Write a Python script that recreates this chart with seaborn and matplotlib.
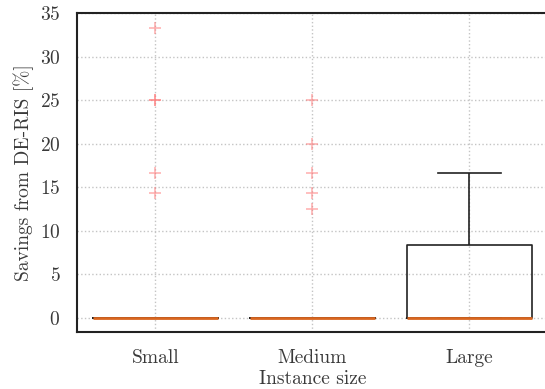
import numpy as np
import pandas as pd
import seaborn as sns
import matplotlib.pyplot as plt

plt.rcParams['font.family'] = 'cmr10'
plt.rcParams['axes.formatter.use_mathtext'] = True
plt.rcParams['font.size'] = 14
plt.rcParams['text.color'] = '#3a3a3a'
plt.rcParams['axes.labelcolor'] = '#3a3a3a'
plt.rcParams['xtick.labelcolor'] = '#3a3a3a'
plt.rcParams['ytick.labelcolor'] = '#3a3a3a'

# savings per instance [%]
small = [0] * 20 + [33.33, 25.0, 25.0, 16.67, 14.29]
medium = [0] * 20 + [25.0, 20.0, 16.67, 14.29, 12.5]
large = [0, 0, 0, 0, 0, 8.33, 8.33, 16.67]
sizes = ['Small', 'Medium', 'Large']

df = pd.DataFrame({
    'size': ['Small'] * len(small) + ['Medium'] * len(medium) + ['Large'] * len(large),
    'savings': small + medium + large,
})

fig = plt.figure(figsize=(5.45, 3.89), dpi=100)
ax = fig.add_axes([0.1413, 0.1458, 0.8637, 0.8200])

sns.boxplot(data=df, x='size', y='savings', order=sizes, ax=ax,
            fill=False, color='#222222', width=0.8, linewidth=1.2,
            medianprops={'color': '#d9661f', 'linewidth': 2},
            flierprops={'marker': '+', 'markeredgecolor': '#ff7777',
                        'markersize': 8, 'alpha': 0.6, 'markeredgewidth': 1.1})

ax.set_axisbelow(True)
ax.grid(True, linestyle=':', color='#c4c4c4', linewidth=1)
ax.set_xlim(-0.5, 2.5)
ax.set_ylim(-1.667, 35)
ax.set_yticks(range(0, 36, 5))
ax.tick_params(axis='y', length=0, pad=12)
ax.tick_params(axis='x', length=0, pad=12)
for s in ax.spines.values():
    s.set_color('#222222')
    s.set_linewidth(1.5)

ax.set_xlabel('Instance size', labelpad=2)
ax.set_ylabel('Savings from DE-RIS [%]', labelpad=4)

plt.savefig('out.png', dpi=100)
